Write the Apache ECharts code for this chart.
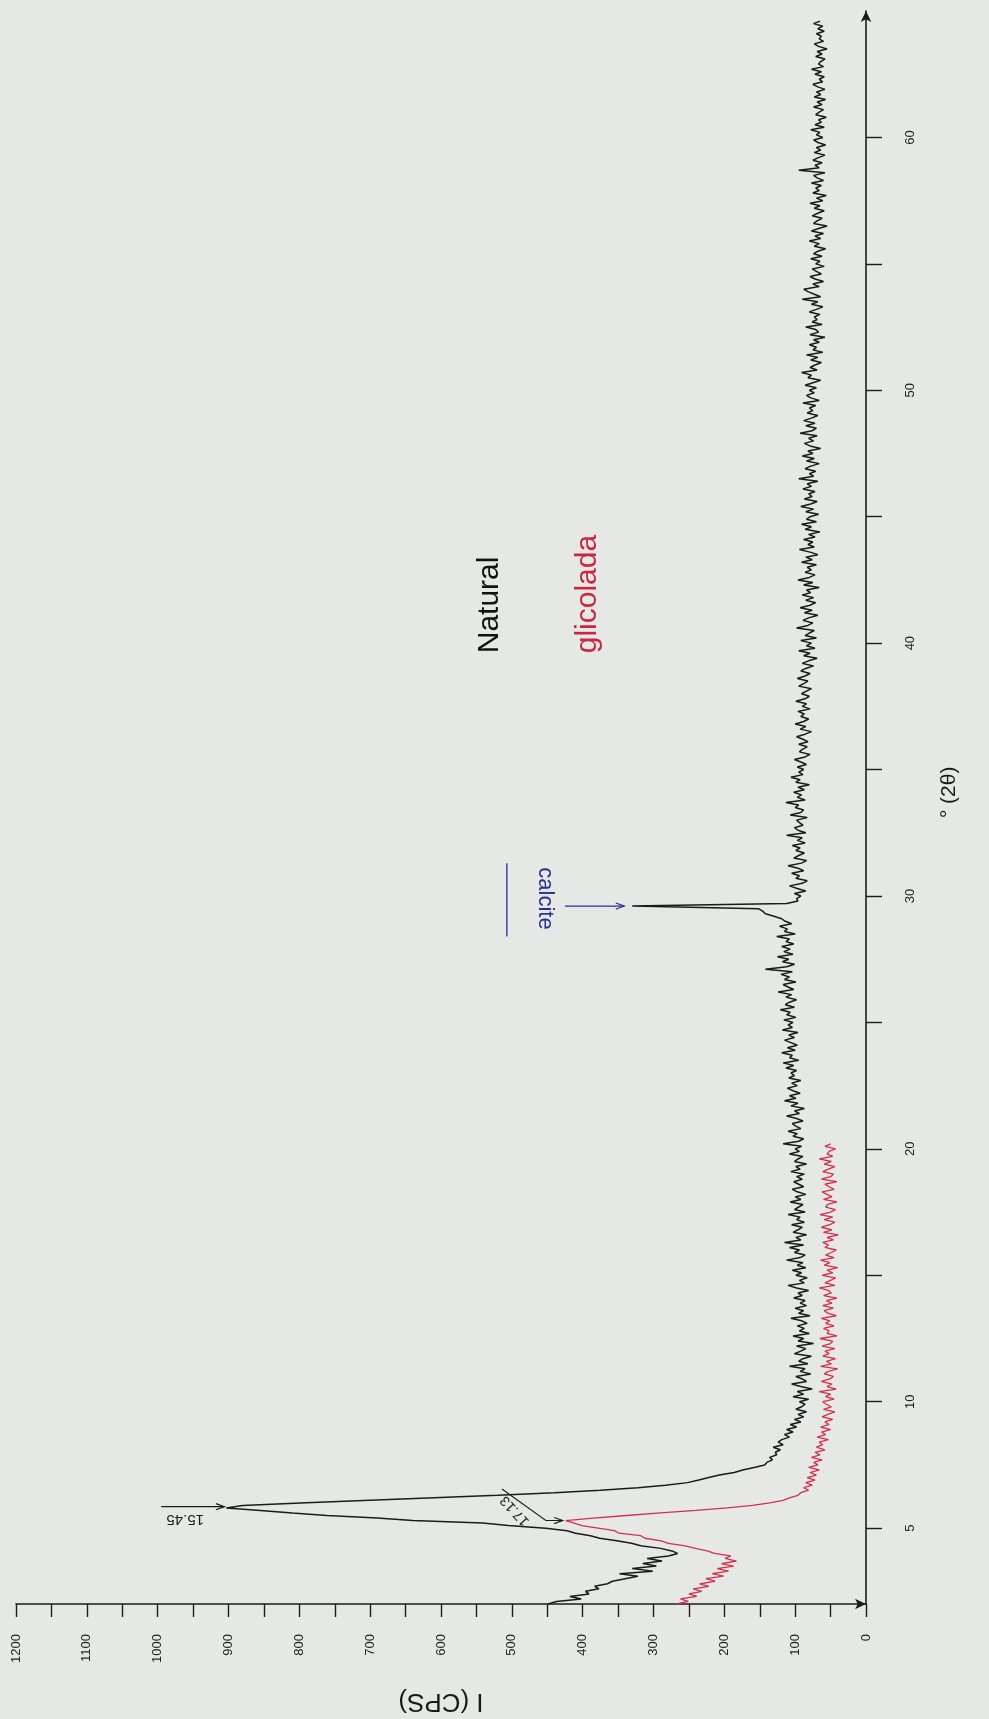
<!DOCTYPE html>
<html>
<head>
<meta charset="utf-8">
<script src="https://cdn.jsdelivr.net/npm/echarts@6/dist/echarts.min.js"></script>
<style>
  html, body { margin: 0; padding: 0; background: #e6e8e6; }
  #chart { width: 989px; height: 1719px; }
</style>
</head>
<body>
<div id="chart"></div>
<script>
// X-ray diffractogram, clay fraction: natural vs. glycolated sample.
// Intensities (CPS) sampled every 0.1 degree 2-theta.

const naturalStart = 2.0;
const naturalStep = 0.1;
const naturalCps = [
  449, 437, 402, 418, 391, 396, 377, 383, 365, 358,
  340, 322, 348, 301, 330, 296, 315, 288, 309, 279,
  266, 274, 290, 318, 331, 352, 376, 389, 410, 422,
  452, 505, 541, 640, 690, 761, 810, 855, 903, 880,
  790, 700, 610, 520, 440, 375, 322, 283, 252, 236,
  222, 207, 186, 174, 158, 143, 140, 132, 136, 126,
  128, 121, 131, 117, 124, 119, 108, 115, 103, 112,
  98, 107, 92, 101, 88, 96, 84, 99, 91, 86,
  94, 81, 103, 88, 97, 76, 92, 105, 84, 90,
  99, 78, 93, 86, 108, 82, 95, 89, 77, 101,
  92, 85, 98, 74, 96, 88, 103, 80, 94, 87,
  97, 83, 91, 106, 79, 95, 88, 100, 84, 93,
  86, 102, 90, 96, 81, 98, 110, 87, 94, 83,
  99, 91, 104, 85, 97, 89, 112, 93, 86, 101,
  94, 108, 88, 115, 92, 99, 84, 103, 96, 90,
  105, 87, 98, 93, 110, 86, 101, 95, 89, 107,
  92, 100, 85, 97, 104, 88, 95, 102, 90, 98,
  87, 106, 93, 99, 84, 101, 96, 89, 108, 94,
  100, 91, 117, 95, 88, 103, 97, 110, 92, 99,
  104, 89, 98, 112, 94, 101, 87, 106, 96, 115,
  99, 108, 93, 103, 111, 97, 105, 92, 109, 101,
  106, 98, 113, 102, 117, 95, 108, 104, 119, 100,
  111, 97, 106, 115, 101, 109, 96, 118, 104, 110,
  103, 116, 99, 112, 107, 121, 101, 114, 108, 98,
  113, 105, 124, 102, 110, 117, 99, 115, 108, 120,
  104, 142, 112, 101, 118, 109, 125, 103, 116, 107,
  119, 102, 113, 108, 126, 100, 115, 111, 122, 105,
  114, 119, 130, 142, 146, 152, 330, 112, 96, 98,
  92, 101, 85, 97, 108, 90, 83, 99, 94, 105,
  88, 96, 110, 91, 84, 102, 95, 87, 99, 93,
  104, 86, 97, 90, 112, 85, 96, 101, 89, 94,
  98, 83, 107, 92, 88, 100, 95, 113, 86, 97,
  91, 102, 87, 96, 80, 99, 93, 106, 89, 95,
  88, 97, 84, 92, 101, 86, 79, 94, 90, 83,
  95, 82, 89, 98, 86, 77, 93, 85, 100, 88,
  81, 92, 87, 96, 79, 90, 84, 99, 86, 80,
  91, 84, 77, 95, 88, 82, 97, 86, 79, 92,
  85, 74, 90, 81, 69, 88, 79, 95, 72, 84,
  77, 92, 70, 86, 80, 73, 98, 82, 75, 89,
  81, 68, 87, 76, 93, 79, 71, 85, 74, 90,
  78, 84, 66, 88, 75, 96, 80, 72, 86, 77,
  83, 70, 91, 76, 85, 68, 79, 94, 73, 82,
  75, 88, 72, 81, 65, 86, 77, 91, 70, 84,
  79, 67, 85, 74, 92, 78, 69, 87, 76, 81,
  72, 89, 77, 83, 68, 95, 74, 80, 71, 86,
  78, 66, 84, 73, 90, 75, 82, 64, 79, 87,
  74, 81, 69, 93, 76, 70, 85, 72, 88, 77,
  68, 83, 75, 80, 71, 89, 66, 78, 84, 73,
  80, 70, 86, 75, 64, 82, 77, 91, 69, 79,
  72, 63, 78, 68, 84, 61, 75, 70, 80, 66,
  74, 58, 79, 67, 71, 85, 62, 76, 69, 73,
  65, 80, 70, 61, 77, 68, 90, 64, 73, 82,
  88, 66, 75, 60, 72, 79, 63, 70, 76, 59,
  71, 65, 78, 62, 74, 68, 57, 73, 66, 80,
  64, 72, 60, 77, 67, 55, 74, 69, 62, 76,
  68, 59, 73, 65, 79, 61, 70, 56, 75, 66,
  71, 63, 77, 60, 69, 74, 58, 95, 66, 72,
  62, 75, 67, 58, 73, 64, 70, 57, 68, 74,
  61, 70, 65, 78, 59, 72, 63, 67, 56, 71,
  66, 60, 74, 62, 69, 57, 73, 64, 70, 58,
  68, 75, 61, 66, 59, 72, 63, 77, 60, 67,
  64, 58, 71, 62, 69, 55, 67, 73, 60, 66,
  63, 70, 59, 68, 61, 74, 65
];

const glycolStart = 2.0;
const glycolStep = 0.1;
const glycolCps = [
  268, 251, 262, 239, 250, 232, 244, 222, 235, 213,
  226, 201, 217, 194, 210, 187, 204, 183, 199, 191,
  214, 224, 241, 255, 279, 289, 312, 318, 349, 355,
  378, 401, 412, 424, 385, 338, 290, 240, 196, 160,
  136, 117, 108, 96, 92, 81, 88, 76, 85, 72,
  83, 70, 79, 66, 81, 68, 74, 62, 77, 65,
  72, 58, 70, 61, 66, 53, 69, 57, 63, 50,
  64, 52, 58, 47, 62, 54, 44, 60, 49, 56,
  61, 45, 57, 50, 66, 42, 55, 48, 63, 51,
  46, 59, 53, 40, 64, 49, 56, 43, 61, 52,
  58, 44, 62, 50, 47, 65, 41, 55, 52, 60,
  45, 57, 51, 63, 42, 54, 59, 46, 61, 48,
  56, 41, 60, 49, 53, 66, 44, 58, 50, 43,
  62, 47, 55, 40, 59, 51, 64, 45, 57, 49,
  42, 58, 53, 61, 46, 55, 39, 60, 48, 63,
  51, 44, 59, 47, 65, 50, 43, 57, 54, 41,
  60, 48, 55, 62, 45, 52, 58, 41, 63, 50,
  46, 61, 53, 44, 59, 49, 66, 47, 55, 52,
  43, 58, 50
];

const thetaTicks = [5, 10, 15, 20, 25, 30, 35, 40, 45, 50, 55, 60];
const thetaLabels = [5, 10, 20, 30, 40, 50, 60];

// Annotated reflections: [2-theta, CPS, label]
const naturalPeak = [5.8, 903, '15.45'];
const glycolPeak = [5.3, 424, '17.13'];
const calcitePeak = [29.6, 330, 'calcite'];

function toPairs(start, step, values) {
  return values.map((v, i) => [v, +(start + i * step).toFixed(2)]);
}

const FONT = '"Liberation Sans Narrow", "Liberation Sans", Arial, sans-serif';
const SANS = '"Liberation Sans", Arial, sans-serif';
const INK = '#1b1b1b';
const RED = '#d2304c';
const BLUE = '#2b2f8f';

const chart = echarts.init(document.getElementById('chart'), null, { renderer: 'canvas' });

chart.setOption({
  backgroundColor: '#e6e8e6',
  animation: false,
  grid: { left: 16, right: 123, top: 11, bottom: 105, containLabel: false },
  xAxis: {
    type: 'value',
    min: 0, max: 1200, interval: 50,
    inverse: true,
    position: 'bottom',
    name: 'I (CPS)',
    nameLocation: 'middle',
    nameRotate: 180,
    nameGap: 84,
    nameTextStyle: { fontSize: 26, color: INK, fontFamily: SANS },
    axisLine: { onZero: false, symbol: ['none', 'arrow'], symbolSize: [8, 11], lineStyle: { color: INK, width: 1.6 } },
    axisTick: { length: 13, lineStyle: { color: INK, width: 1.4 } },
    axisLabel: {
      rotate: 90, margin: 30, fontSize: 13, color: '#222', fontFamily: FONT,
      formatter: v => (v % 100 === 0 ? String(v) : '')
    },
    splitLine: { show: false }
  },
  yAxis: {
    type: 'value',
    min: 2, max: 65,
    position: 'right',
    axisLine: { onZero: false, symbol: ['none', 'arrow'], symbolSize: [8, 11], lineStyle: { color: INK, width: 1.6 } },
    axisTick: { length: 16, customValues: thetaTicks, lineStyle: { color: INK, width: 1.4 } },
    axisLabel: { rotate: 90, margin: 38, fontSize: 13, color: '#222', fontFamily: FONT, customValues: thetaLabels },
    splitLine: { show: false }
  },
  series: [
    {
      name: 'glicolada',
      type: 'line',
      data: toPairs(glycolStart, glycolStep, glycolCps),
      showSymbol: false,
      lineStyle: { color: RED, width: 1.3 },
      z: 2
    },
    {
      name: 'Natural',
      type: 'line',
      data: toPairs(naturalStart, naturalStep, naturalCps),
      showSymbol: false,
      lineStyle: { color: INK, width: 1.5 },
      z: 3
    }
  ]
});

// Annotations placed through the axes' own coordinate conversion
const px = (cps, theta) => chart.convertToPixel({ xAxisIndex: 0, yAxisIndex: 0 }, [cps, theta]);

const nPk = px(naturalPeak[1], naturalPeak[0]);
const nTail = px(995, naturalPeak[0] + 0.05);
const gPk = px(glycolPeak[1], glycolPeak[0]);
const gElbow = px(glycolPeak[1] + 28, glycolPeak[0]);
const gStart = px(glycolPeak[1] + 90, glycolPeak[0] + 1.25);
const cPk = px(calcitePeak[1], calcitePeak[0]);
const cArrowFrom = px(425, calcitePeak[0]);
const cBarTop = px(507, 31.3);
const cBarBottom = px(507, 28.4);
const cText = px(453, 29.9);

const arrowHead = (tip, angle, color) => ({
  type: 'polyline',
  shape: {
    points: [
      [tip[0] - 9 * Math.cos(angle - 0.35), tip[1] - 9 * Math.sin(angle - 0.35)],
      tip,
      [tip[0] - 9 * Math.cos(angle + 0.35), tip[1] - 9 * Math.sin(angle + 0.35)]
    ]
  },
  style: { stroke: color, lineWidth: 1.2, fill: null },
  z: 10
});

const natPos = px(531, 39.6);
const glyPos = px(393, 39.6);
const thetaName = px(-118, 34.1);

const centered = { align: 'center', verticalAlign: 'middle', textAlign: 'center', textVerticalAlign: 'middle' };
const startAligned = { align: 'left', verticalAlign: 'middle', textAlign: 'left', textVerticalAlign: 'middle' };

chart.setOption({
  graphic: [
    // 2-theta axis title
    { type: 'text', x: thetaName[0], y: thetaName[1], rotation: Math.PI / 2,
      style: Object.assign({ text: '° (2θ)', font: '21px ' + SANS, fill: INK }, centered), z: 10 },
    // 15.45 Å reflection of the natural sample
    { type: 'line', shape: { x1: nTail[0], y1: nTail[1], x2: nPk[0] - 2, y2: nTail[1] }, style: { stroke: INK, lineWidth: 1.1 }, z: 10 },
    arrowHead([nPk[0] - 2, nTail[1]], 0, INK),
    { type: 'text', x: nTail[0] + 24, y: nTail[1] + 12, rotation: Math.PI,
      style: Object.assign({ text: naturalPeak[2], font: '15px ' + FONT, fill: INK }, centered), z: 10 },
    // 17.13 Å reflection of the glycolated sample
    { type: 'polyline', shape: { points: [gStart, gElbow, [gPk[0] - 3, gElbow[1]]] }, style: { stroke: INK, lineWidth: 1.1, fill: null }, z: 10 },
    arrowHead([gPk[0] - 3, gElbow[1]], 0, INK),
    { type: 'text', x: (gStart[0] + gElbow[0]) / 2 - 9, y: (gStart[1] + gElbow[1]) / 2 + 6, rotation: 2.32,
      style: Object.assign({ text: glycolPeak[2], font: '14px ' + FONT, fill: INK }, centered), z: 10 },
    // calcite reflection
    { type: 'line', shape: { x1: cBarTop[0], y1: cBarTop[1], x2: cBarBottom[0], y2: cBarBottom[1] }, style: { stroke: BLUE, lineWidth: 1.3 }, z: 10 },
    { type: 'line', shape: { x1: cArrowFrom[0], y1: cArrowFrom[1], x2: cPk[0] - 8, y2: cPk[1] }, style: { stroke: BLUE, lineWidth: 1.2 }, z: 10 },
    arrowHead([cPk[0] - 8, cPk[1]], 0, BLUE),
    { type: 'text', x: cText[0], y: cText[1], rotation: -Math.PI / 2,
      style: Object.assign({ text: calcitePeak[2], font: '22px ' + SANS, fill: BLUE }, centered), z: 10 },
    // series names
    { type: 'text', x: natPos[0], y: natPos[1], rotation: Math.PI / 2,
      style: Object.assign({ text: 'Natural', font: '30px ' + SANS, fill: '#111' }, startAligned), z: 10 },
    { type: 'text', x: glyPos[0], y: glyPos[1], rotation: Math.PI / 2,
      style: Object.assign({ text: 'glicolada', font: '30px ' + SANS, fill: '#c8283f' }, startAligned), z: 10 }
  ]
});
</script>
</body>
</html>
